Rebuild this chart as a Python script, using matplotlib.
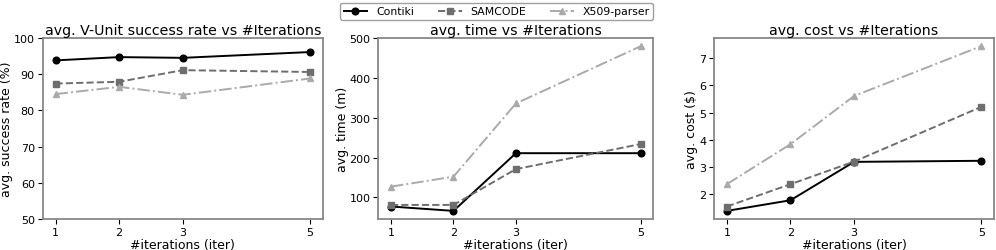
import matplotlib
matplotlib.use("Agg")
import matplotlib.pyplot as plt

iterations = [1, 2, 3, 5]

# success rate (%)
success_contiki = [93.8, 94.7, 94.5, 96.1]
success_samcode = [87.4, 87.9, 91.1, 90.6]
success_x509 = [84.5, 86.5, 84.3, 88.8]

# time (m)
time_contiki = [77, 66, 211, 211]
time_samcode = [81, 81, 171, 234]
time_x509 = [127, 152, 336, 480]

# cost ($)
cost_contiki = [1.39, 1.78, 3.19, 3.23]
cost_samcode = [1.55, 2.37, 3.2, 5.21]
cost_x509 = [2.37, 3.84, 5.61, 7.44]

names = ["Contiki", "SAMCODE", "X509-parser"]
colors = ["black", "#6e6e6e", "#aaaaaa"]
styles = ["-", "--", "-."]
markers = ["o", "s", "^"]

panels = [
    ("avg. V-Unit success rate vs #Iterations", "avg. success rate (%)",
     [success_contiki, success_samcode, success_x509]),
    ("avg. time vs #Iterations", "avg. time (m)",
     [time_contiki, time_samcode, time_x509]),
    ("avg. cost vs #Iterations", "avg. cost ($)",
     [cost_contiki, cost_samcode, cost_x509]),
]

fig, axes = plt.subplots(1, 3, figsize=(9.96, 2.51), dpi=100)

for ax, (title, ylabel, series) in zip(axes, panels):
    for vals, name, c, ls, m in zip(series, names, colors, styles, markers):
        ax.plot(iterations, vals, color=c, linestyle=ls, marker=m,
                markersize=4.8, linewidth=1.4, label=name)
    ax.set_title(title, fontsize=10.2, pad=3)
    ax.set_ylabel(ylabel, fontsize=9, labelpad=0.5)
    ax.set_xlabel("#iterations (iter)", fontsize=9, labelpad=0.5)
    ax.set_xticks(iterations)
    ax.tick_params(labelsize=8, pad=2.3)
    for sp in ax.spines.values():
        sp.set_color("#888888")
        sp.set_linewidth(1.3)

axes[0].set_ylim(50, 100)

# positions tuned by eye
axes[0].set_position([0.043, 0.123, 0.281, 0.722])
axes[1].set_position([0.380, 0.123, 0.276, 0.722])
axes[2].set_position([0.717, 0.123, 0.281, 0.722])

handles, labels = axes[1].get_legend_handles_labels()
fig.legend(handles, labels, loc="upper center", bbox_to_anchor=(0.4985, 1.005),
           ncol=3, fontsize=7.8, frameon=True, handlelength=2.2, columnspacing=2.2,
           borderpad=0.3, edgecolor="#888888")

plt.savefig("out.png", dpi=100)
